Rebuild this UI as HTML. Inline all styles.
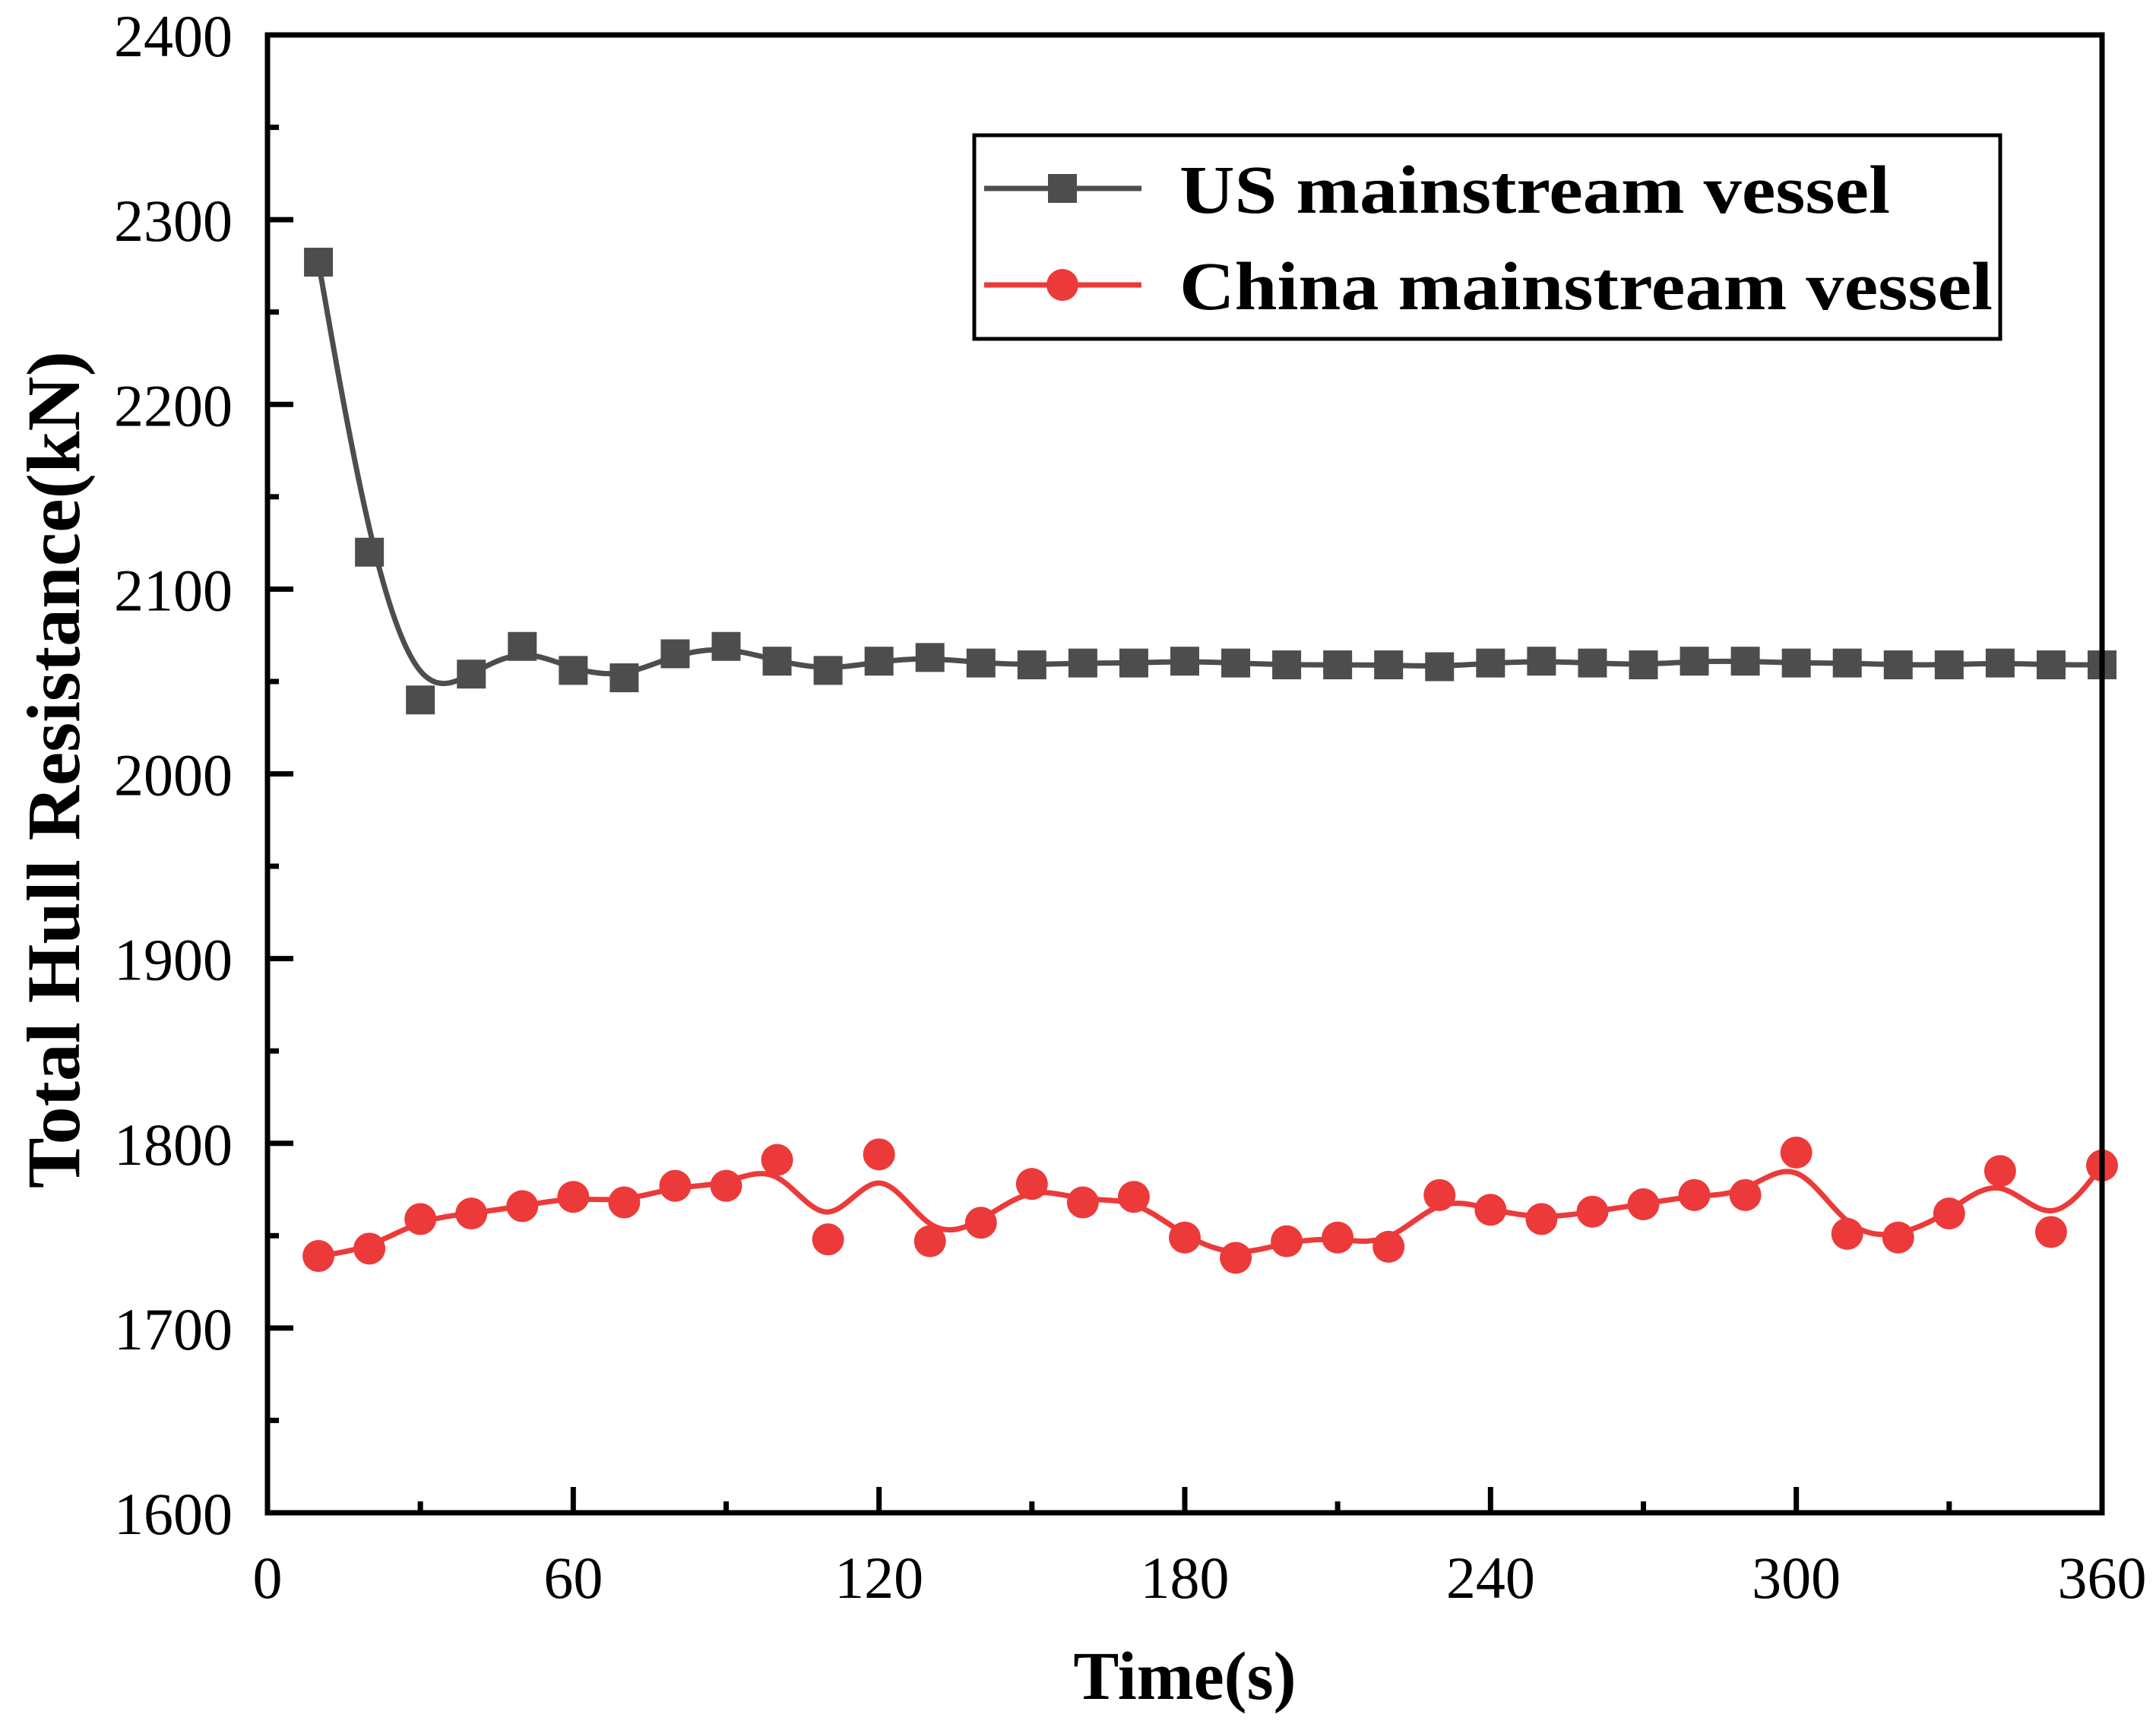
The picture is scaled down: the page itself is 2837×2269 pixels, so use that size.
<!DOCTYPE html>
<html><head><meta charset="utf-8"><style>html,body{margin:0;padding:0;background:#fff}svg{display:block}</style></head>
<body>
<svg id="chart" width="2837" height="2269" viewBox="0 0 2837 2269" xmlns="http://www.w3.org/2000/svg" font-family="'Liberation Serif', serif">
<g id="series"></g>
<rect x="352" y="46" width="2414" height="1945" fill="none" stroke="#000" stroke-width="7"/>
<g id="axes"></g>
<text x="1559" y="2236" font-size="90" font-weight="bold" text-anchor="middle">Time(s)</text>
<text transform="translate(104,1013) rotate(-90)" font-size="100" font-weight="bold" text-anchor="middle">Total Hull Resistance(kN)</text>
<g>
<rect x="1282" y="178" width="1350" height="268" fill="#fff" stroke="#000" stroke-width="5"/>
<line x1="1295" y1="248" x2="1502" y2="248" stroke="#4d4d4d" stroke-width="7"/>
<rect x="1379" y="229" width="38" height="38" fill="#4d4d4d"/>
<text x="1552" y="280" font-size="90" font-weight="bold" textLength="935" lengthAdjust="spacingAndGlyphs">US mainstream vessel</text>
<line x1="1295" y1="375" x2="1502" y2="375" stroke="#ec3a3a" stroke-width="7"/>
<circle cx="1398" cy="375" r="21" fill="#ec3a3a"/>
<text x="1552" y="407" font-size="90" font-weight="bold" textLength="1070" lengthAdjust="spacingAndGlyphs">China mainstream vessel</text>
</g>
</svg>
<script>
const times = [10,20,30,40,50,60,70,80,90,100,110,120,130,140,150,160,170,180,190,200,210,220,230,240,250,260,270,280,290,300,310,320,330,340,350,360];
const usValues = [2277,2120,2040,2054,2069,2056,2052,2065,2069,2061,2056,2061,2063,2060,2059,2060,2060,2061,2060,2059,2059,2059,2058,2060,2061,2060,2059,2061,2061,2060,2060,2059,2059,2060,2059,2059];
const chinaValues = [1739,1743,1759,1762,1766,1771,1768,1777,1777,1791,1748,1794,1747,1757,1778,1768,1771,1749,1738,1747,1749,1744,1772,1764,1759,1763,1767,1772,1772,1795,1751,1749,1762,1785,1752,1788];
const xTicks = [0,60,120,180,240,300,360];
const yTicks = [1600,1700,1800,1900,2000,2100,2200,2300,2400];
const NS = 'http://www.w3.org/2000/svg';
const X0=352,X1=2766,Y0=1991,Y1=46;
function xs(v){return X0+(v-0)/(360-0)*(X1-X0);}
function ys(v){return Y0-(v-1600)/(2400-1600)*(Y0-Y1);}
function mk(tag,attrs,parent){const e=document.createElementNS(NS,tag);for(const k in attrs)e.setAttribute(k,attrs[k]);parent.appendChild(e);return e;}
const axes=document.getElementById('axes');
xTicks.forEach((t,i)=>{
  const l=mk('line',{x1:xs(t),x2:xs(t),y1:Y0,y2:Y0-34,stroke:'#000','stroke-width':7},axes);
  
  
  if(i<xTicks.length-1){const m=mk('line',{x1:xs(t+30),x2:xs(t+30),y1:Y0,y2:Y0-15,stroke:'#000','stroke-width':7},axes);
  
  }
  const tx=mk('text',{x:xs(t),y:2103,'font-size':78,'text-anchor':'middle'},axes);tx.textContent=t;
  
  
});
yTicks.forEach((t,i)=>{
  const l=mk('line',{x1:X0,x2:X0+34,y1:ys(t),y2:ys(t),stroke:'#000','stroke-width':7},axes);
  
  
  if(i<yTicks.length-1){const m=mk('line',{x1:X0,x2:X0+15,y1:ys(t+50),y2:ys(t+50),stroke:'#000','stroke-width':7},axes);
  
  }
  const tx=mk('text',{x:306,y:ys(t)+28,'font-size':78,'text-anchor':'end'},axes);tx.textContent=t;
  
  
});
// uniform cubic B-spline with clamped ends
function bspline(pts){
  const P=[pts[0],pts[0]].concat(pts,[pts[pts.length-1],pts[pts.length-1]]);
  let d='';
  for(let i=0;i<P.length-3;i++){
    const p0=P[i],p1=P[i+1],p2=P[i+2],p3=P[i+3];
    const s=[(p0[0]+4*p1[0]+p2[0])/6,(p0[1]+4*p1[1]+p2[1])/6];
    const c1=[(2*p1[0]+p2[0])/3,(2*p1[1]+p2[1])/3];
    const c2=[(p1[0]+2*p2[0])/3,(p1[1]+2*p2[1])/3];
    const e=[(p1[0]+4*p2[0]+p3[0])/6,(p1[1]+4*p2[1]+p3[1])/6];
    if(i===0)d='M'+s[0]+','+s[1];
    d+=' C'+c1[0]+','+c1[1]+' '+c2[0]+','+c2[1]+' '+e[0]+','+e[1];
  }
  return d;}
const g=document.getElementById('series');
function drawSeries(vals,color,shape,name){
  const pts=times.map((t,i)=>[xs(t),ys(vals[i])]);
  const p=mk('path',{d:bspline(pts),fill:'none',stroke:color,'stroke-width':7},g);
  
  
  pts.forEach(pt=>{let m;
    if(shape==='sq') m=mk('rect',{x:pt[0]-19,y:pt[1]-19,width:38,height:38,fill:color},g);
    else m=mk('circle',{cx:pt[0],cy:pt[1],r:21,fill:color},g);
    
    });
}
drawSeries(usValues,'#4d4d4d','sq','us-series');
drawSeries(chinaValues,'#ec3a3a','ci','china-series');
</script>
</body></html>
